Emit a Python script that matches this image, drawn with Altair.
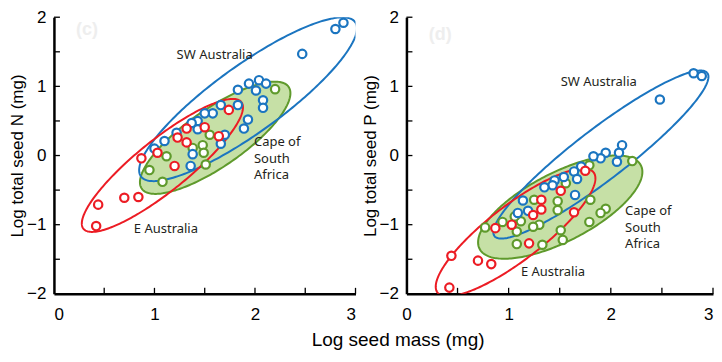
import numpy as np
import pandas as pd
import altair as alt

# ---------------- data ----------------
# Panel (c): log total seed N vs log seed mass
c_sw_x = [2.88, 2.80, 2.47, 1.83, 1.94, 2.04, 2.11, 2.01, 2.08, 2.08, 1.83, 1.66, 1.58,
          1.50, 1.93, 1.89, 1.43, 1.37, 1.43, 1.22, 1.10, 1.00, 1.38, 1.70, 1.66, 1.36]
c_sw_y = [1.92, 1.83, 1.47, 0.95, 1.04, 1.09, 1.04, 0.94, 0.80, 0.69, 0.73, 0.73, 0.61,
          0.61, 0.52, 0.39, 0.50, 0.47, 0.38, 0.33, 0.21, 0.10, 0.02, 0.30, 0.17, -0.15]
c_ea_x = [1.74, 1.50, 1.32, 1.23, 1.32, 1.64, 1.03, 0.87, 1.20, 0.70, 0.84, 0.44, 0.42]
c_ea_y = [0.66, 0.41, 0.39, 0.26, 0.19, 0.28, 0.04, -0.04, -0.15, -0.61, -0.60, -0.71, -1.02]
c_sa_x = [2.20, 1.55, 1.48, 1.38, 1.49, 1.12, 1.51, 0.95, 1.08]
c_sa_y = [0.96, 0.30, 0.15, 0.11, 0.04, -0.01, -0.13, -0.21, -0.38]

# Panel (d): log total seed P vs log seed mass
d_sw_x = [2.81, 2.89, 2.48, 2.11, 2.08, 2.06, 1.95, 1.90, 1.83, 1.71, 1.64, 1.67, 1.65,
          1.54, 1.45, 1.43, 1.35, 1.14, 1.09, 1.19]
d_sw_y = [1.19, 1.15, 0.81, 0.15, 0.04, -0.09, 0.04, -0.04, -0.01, -0.16, -0.23, -0.34,
          -0.57, -0.31, -0.36, -0.43, -0.46, -0.65, -0.83, -0.80]
d_ea_x = [1.75, 1.51, 1.32, 1.32, 1.24, 1.64, 1.03, 0.87, 1.20, 0.44, 0.70, 0.83, 0.42]
d_ea_y = [-0.22, -0.51, -0.64, -0.78, -0.86, -0.82, -1.00, -1.05, -1.27, -1.45, -1.52,
          -1.57, -1.91]
d_sa_x = [2.21, 1.79, 1.80, 1.95, 1.90, 1.79, 1.51, 1.53, 1.33, 1.08, 1.30, 1.24, 1.48,
          1.48, 1.56, 0.77, 0.94, 1.08, 1.12, 1.25, 1.06]
d_sa_y = [-0.08, -0.14, -0.64, -0.77, -0.83, -0.96, -1.08, -1.22, -1.29, -1.28, -1.00,
          -1.03, -0.79, -0.66, -0.40, -1.04, -0.96, -1.10, -0.95, -0.64, -0.88]

# Ellipses: centre, major half-axis vector, minor half-axis vector (data units)
c_sw_ell = [1.931, 0.814, 1.065, 1.117, 0.198, -0.393]
c_ea_ell = [1.079, -0.143, 0.785, 0.917, 0.162, -0.289]
c_sa_ell = [1.604, 0.257, 0.730, 0.737, 0.165, -0.340]
d_sw_ell = [1.903, 0.014, 1.041, 1.180, 0.155, -0.289]
d_ea_ell = [1.068, -1.113, 0.763, 0.870, 0.168, -0.310]
d_sa_ell = [1.505, -0.746, 0.788, 0.607, 0.159, -0.435]

# Region labels (one entry per text line)
c_lab_text = ["SW Australia", "Cape of", "South", "Africa", "E Australia"]
c_lab_x = [1.22, 1.99, 1.99, 1.99, 0.795]
c_lab_y = [1.46, 0.200, -0.043, -0.286, -1.06]
d_lab_text = ["SW Australia", "Cape of", "South", "Africa", "E Australia"]
d_lab_x = [1.51, 2.14, 2.14, 2.14, 1.12]
d_lab_y = [1.06, -0.803, -1.042, -1.281, -1.68]

x_ticks = [0, 1, 2, 3]
y_ticks = [-2, -1, 0, 1, 2]
x_minor = [0.5, 1, 1.5, 2, 2.5, 3]
y_minor = [-1.5, -1, -0.5, 0, 0.5, 1, 1.5, 2]

# ---------------- styling ----------------
BLUE = "#1b75c0"
RED = "#ec1c24"
GREEN = "#5f9a2c"
GREEN_FILL = "#c6e0a6"
FONT = "Liberation Sans"
LFONT = "Noto Sans"


def outline(e, n=241):
    cx, cy, ux, uy, vx, vy = e
    t = np.linspace(0, 2 * np.pi, n)
    return pd.DataFrame({
        "x": cx + ux * np.cos(t) + vx * np.sin(t),
        "y": cy + uy * np.cos(t) + vy * np.sin(t),
        "i": np.arange(n),
    })


def band(e, n=241):
    cx, cy, ux, uy, vx, vy = e
    M = np.array([[ux, vx], [uy, vy]])
    Mi = np.linalg.inv(M)
    Q = Mi.T @ Mi
    A, B, D = Q[0, 0], Q[0, 1], Q[1, 1]
    xr = np.hypot(ux, vx)
    s = np.linspace(np.pi, 0, n)
    dx = xr * np.cos(s)
    disc = np.clip(B * B * dx * dx - D * (A * dx * dx - 1), 0, None)
    r = np.sqrt(disc)
    ya = (-B * dx + r) / D
    yb = (-B * dx - r) / D
    return pd.DataFrame({"x": cx + dx, "y": cy + np.maximum(ya, yb),
                         "y2": cy + np.minimum(ya, yb)})


def panel(sw, ea, sa, ells, labs, letter, letter_xy, ytitle, width, last_flush):
    xs = alt.Scale(domain=[0, 3], nice=False, zero=False)
    ys = alt.Scale(domain=[-2, 2], nice=False, zero=False)
    xkw = dict(values=x_ticks, title=None, grid=False, ticks=False, tickSize=0,
               labelPadding=13, labelFont=FONT, labelFontSize=17, labelColor="black",
               domainColor="black", domainWidth=2.5, format="d")
    if last_flush:
        xkw["labelAlign"] = {"condition": {"test": "datum.value === 3", "value": "right"},
                             "value": "center"}
    xax = alt.Axis(**xkw)
    yax = alt.Axis(values=y_ticks, title=ytitle, grid=False, ticks=False, tickSize=0,
                   labelPadding=8, labelFont=FONT, labelFontSize=17, labelColor="black",
                   domainColor="black", domainWidth=2.5, format="d",
                   titleFont=FONT, titleFontSize=17, titleFontWeight="normal",
                   titleColor="black", titlePadding=0)
    X = alt.X("x:Q", scale=xs, axis=xax)
    Y = alt.Y("y:Q", scale=ys, axis=yax)

    sw_e, ea_e, sa_e = ells
    layers = []
    layers.append(alt.Chart(band(sa_e)).mark_area(color=GREEN_FILL, opacity=1, clip=True)
                  .encode(x=X, y=Y, y2=alt.Y2("y2:Q")))
    for e, col in [(sa_e, GREEN), (sw_e, BLUE), (ea_e, RED)]:
        layers.append(alt.Chart(outline(e)).mark_line(color=col, strokeWidth=2, clip=True)
                      .encode(x=X, y=Y, order=alt.Order("i:Q")))
    # inward ticks
    layers.append(alt.Chart(pd.DataFrame({"x": [0] * len(y_minor), "y": y_minor}))
                  .mark_tick(orient="horizontal", size=6, thickness=1.3, xOffset=3,
                             color="black", opacity=1)
                  .encode(x=X, y=Y))
    layers.append(alt.Chart(pd.DataFrame({"x": x_minor, "y": [-2] * len(x_minor)}))
                  .mark_tick(orient="vertical", size=6, thickness=1.3, yOffset=-3,
                             color="black", opacity=1)
                  .encode(x=X, y=Y))
    for (px, py), col in [(sa, GREEN), (sw, BLUE), (ea, RED)]:
        layers.append(alt.Chart(pd.DataFrame({"x": px, "y": py}))
                      .mark_point(shape="circle", filled=True, fill="white", stroke=col,
                                  strokeWidth=2.2, size=70, opacity=1)
                      .encode(x=X, y=Y))
    lt, lx, ly = labs
    layers.append(alt.Chart(pd.DataFrame({"x": lx, "y": ly, "t": lt}))
                  .mark_text(align="left", baseline="middle", font=LFONT, fontSize=13,
                             color="#231f20")
                  .encode(x=X, y=Y, text="t:N"))
    layers.append(alt.Chart(pd.DataFrame({"x": [letter_xy[0]], "y": [letter_xy[1]],
                                          "t": [letter]}))
                  .mark_text(align="center", baseline="middle", font=FONT, fontSize=18,
                             fontWeight="bold", color="#eeeeee")
                  .encode(x=X, y=Y, text="t:N"))
    return alt.layer(*layers).properties(width=width, height=277)


left = panel((c_sw_x, c_sw_y), (c_ea_x, c_ea_y), (c_sa_x, c_sa_y),
             (c_sw_ell, c_ea_ell, c_sa_ell), (c_lab_text, c_lab_x, c_lab_y),
             "(c)", (0.33, 1.81), "Log total seed N (mg)", 302, False)
right = panel((d_sw_x, d_sw_y), (d_ea_x, d_ea_y), (d_sa_x, d_sa_y),
              (d_sw_ell, d_ea_ell, d_sa_ell), (d_lab_text, d_lab_x, d_lab_y),
              "(d)", (0.33, 1.75), "Log total seed P (mg)", 307, True)

chart = alt.hconcat(
    left, right, spacing=51, bounds="flush",
    title=alt.TitleParams("Log seed mass (mg)", orient="bottom", anchor="middle",
                          font=FONT, fontSize=19, fontWeight="normal", color="black",
                          offset=8, dx=37),
).properties(padding={"left": 0, "top": 0, "right": 0, "bottom": 0}
).configure_view(stroke=None)

chart.save("out.html", embed_options={"renderer": "svg", "actions": False})
